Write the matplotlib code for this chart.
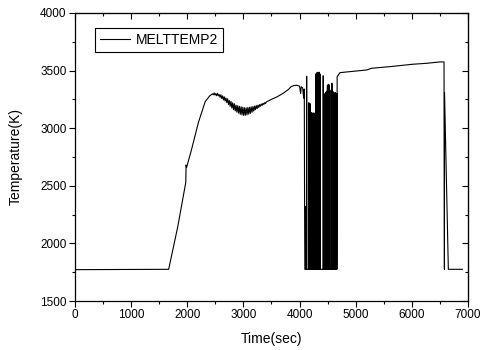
import matplotlib
matplotlib.use("Agg")
import matplotlib.pyplot as plt
from matplotlib.ticker import MultipleLocator

plt.rcParams["font.family"] = ["Liberation Sans", "DejaVu Sans"]

BASE = 1775

# heat-up and first peak
time_rise = [0, 1670, 1830, 1975, 1980, 1990, 2080, 2200, 2320, 2400]
temp_rise = [1772, 1775, 2140, 2530, 2680, 2660, 2820, 3050, 3230, 3280]

# noisy plateau after the first peak
time_noisy = [2450, 2465, 2480, 2495, 2510, 2525, 2540, 2555, 2570, 2585,
              2600, 2615, 2630, 2645, 2660, 2675, 2690, 2705, 2720, 2735,
              2750, 2765, 2780, 2795, 2810, 2825, 2840, 2855, 2870, 2885,
              2900, 2915, 2930, 2945, 2960, 2975, 2990, 3005, 3020, 3035,
              3050, 3065, 3080, 3095, 3110, 3125, 3140, 3155, 3170, 3185,
              3200, 3215, 3230, 3245, 3260, 3275, 3290, 3305, 3320, 3335,
              3350, 3365, 3380, 3395, 3410]
temp_noisy = [3298, 3290, 3306, 3287, 3300, 3282, 3303, 3280, 3292, 3268,
              3290, 3258, 3280, 3245, 3272, 3236, 3262, 3222, 3255, 3205,
              3240, 3190, 3232, 3175, 3220, 3160, 3212, 3150, 3200, 3138,
              3195, 3130, 3190, 3120, 3186, 3115, 3182, 3110, 3178, 3112,
              3176, 3115, 3180, 3122, 3182, 3128, 3185, 3138, 3188, 3148,
              3192, 3160, 3196, 3170, 3200, 3180, 3205, 3190, 3210, 3198,
              3216, 3206, 3222, 3214, 3228]

# slow rise up to the start of the oscillation
time_climb = [3500, 3600, 3700, 3800, 3850, 3900, 3950, 4000, 4020, 4030,
              4055, 4075, 4085, 4090, 4095]
temp_climb = [3250, 3272, 3300, 3335, 3360, 3370, 3372, 3365, 3300, 3360,
              3350, 3260, 3340, 2320, BASE]

# spikes during the oscillating period (each rises from the 1775 K floor)
spike_time = [4110, 4125, 4160, 4175, 4190, 4205, 4220, 4235, 4250, 4270,
              4290, 4305, 4320, 4335, 4350, 4362,
              4420, 4435, 4450, 4465, 4480, 4495, 4510, 4525,
              4560, 4575, 4590, 4605, 4620, 4635, 4650, 4660]
spike_temp = [2320, 3450, 3220, 3215, 3210, 3135, 3130, 3130, 3130, 3130,
              3470, 3480, 3485, 3480, 3485, 3470,
              3455, 3300, 2915, 3310, 3320, 3370, 3380, 3375,
              3330, 3390, 3320, 3310, 3300, 3310, 2985, 3300]

# final plateau and shutdown
time_end = [4665, 4670, 4720, 5195, 5285, 5611, 6021, 6264, 6502, 6573,
            6580, 6582, 6650, 6900]
temp_end = [BASE, 3447, 3482, 3505, 3520, 3534, 3555, 3563, 3575, 3575,
            BASE, 3310, BASE, BASE]

xs = time_rise + time_noisy + time_climb
ys = temp_rise + temp_noisy + temp_climb
for t, v in zip(spike_time, spike_temp):
    xs += [t, t, t + 4, t + 4]
    ys += [BASE, v, v, BASE]
xs += time_end
ys += temp_end

fig = plt.figure(figsize=(4.8, 3.5), dpi=100)
ax = fig.add_axes([0.156, 0.14, 0.819, 0.823])
ax.plot(xs, ys, color="black", linewidth=0.8, label="MELTTEMP2")

ax.set_xlim(0, 7000)
ax.set_ylim(1500, 4000)
ax.xaxis.set_major_locator(MultipleLocator(1000))
ax.xaxis.set_minor_locator(MultipleLocator(500))
ax.yaxis.set_major_locator(MultipleLocator(500))
ax.yaxis.set_minor_locator(MultipleLocator(250))
ax.tick_params(which="both", direction="out", labelsize=8.5, width=0.8, pad=2)
ax.tick_params(which="major", length=4)
ax.tick_params(which="minor", length=2.5)
for s in ax.spines.values():
    s.set_linewidth(0.9)

top = ax.secondary_xaxis("top")
top.xaxis.set_major_locator(MultipleLocator(1000))
top.xaxis.set_minor_locator(MultipleLocator(500))
top.tick_params(which="both", direction="in", labeltop=False, width=0.8)
top.tick_params(which="major", length=4)
top.tick_params(which="minor", length=2.5)
right = ax.secondary_yaxis("right")
right.yaxis.set_major_locator(MultipleLocator(500))
right.yaxis.set_minor_locator(MultipleLocator(250))
right.tick_params(which="both", direction="in", labelright=False, width=0.8)
right.tick_params(which="major", length=4)
right.tick_params(which="minor", length=2.5)

ax.set_xlabel("Time(sec)", fontsize=10, labelpad=8)
ax.set_ylabel("Temperature(K)", fontsize=10, labelpad=12.5)

leg = ax.legend(loc="upper left", bbox_to_anchor=(0.051, 0.948), borderaxespad=0,
                fontsize=10, fancybox=False, edgecolor="black", framealpha=1,
                handlelength=2.2, borderpad=0.35, handletextpad=0.4)
leg.get_frame().set_linewidth(0.8)

fig.savefig("out.png", dpi=100)
